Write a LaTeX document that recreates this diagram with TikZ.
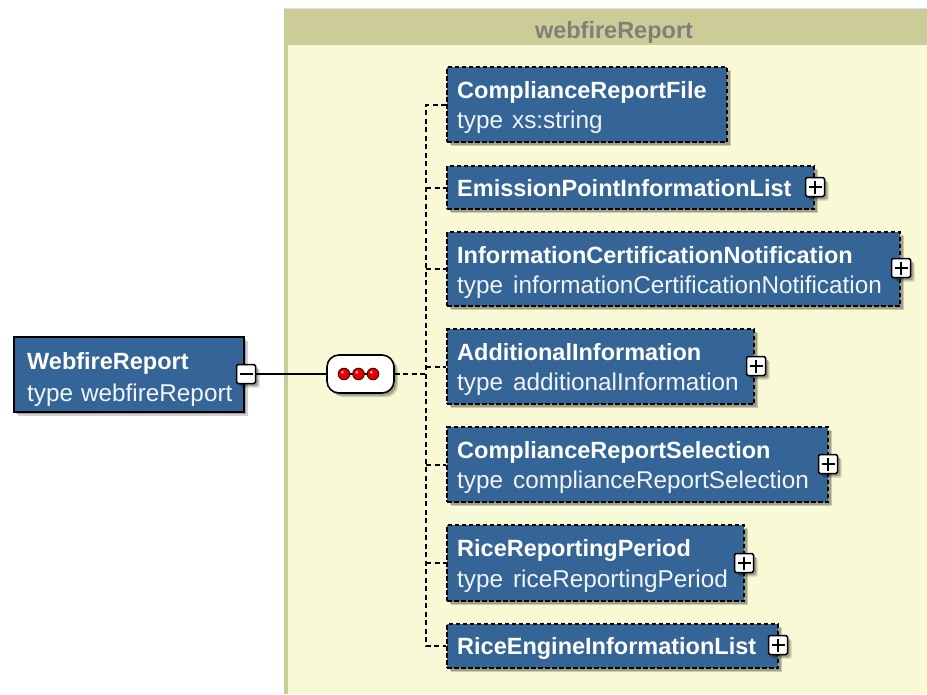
\documentclass[tikz,border=0pt]{standalone}
\usepackage{fontspec}
\setmainfont{Liberation Sans}
\usetikzlibrary{shadows}
\definecolor{boxblue}{RGB}{52,101,150}
\definecolor{panelbody}{RGB}{250,249,214}
\definecolor{panelhead}{RGB}{204,204,153}
\definecolor{hdrtext}{RGB}{128,128,120}
\definecolor{dotred}{RGB}{230,0,0}
\tikzset{
  shad/.style={drop shadow={shadow xshift=4pt,shadow yshift=-4pt,fill=black,opacity=.18},
               drop shadow={shadow xshift=2.5pt,shadow yshift=-2.5pt,fill=black,opacity=.22}},
  elbox/.style={shad,draw=black,line width=2pt,dash pattern=on 4.5pt off 2.5pt,fill=boxblue,
                inner sep=0pt,anchor=north west},
  rootbox/.style={shad,draw=black,line width=1.8pt,fill=boxblue,inner sep=0pt,anchor=north west},
  ttl/.style={anchor=base west,inner sep=0pt,text=white,font=\fontsize{23.5}{23.5}\selectfont\bfseries},
  typ/.style={anchor=base west,inner sep=0pt,text=white!93!boxblue,font=\fontsize{24.3}{24.3}\selectfont},
  pmbox/.style={shad,draw=black,line width=1.5pt,fill=white,minimum size=19pt,inner sep=0pt,rounded corners=1.5pt},
  plus/.style={pmbox,path picture={
     \draw[line width=1.8pt] ([xshift=3pt]path picture bounding box.west) -- ([xshift=-3pt]path picture bounding box.east);
     \draw[line width=1.8pt] ([yshift=3pt]path picture bounding box.south) -- ([yshift=-3pt]path picture bounding box.north);}},
  minus/.style={pmbox,path picture={
     \draw[line width=1.8pt] ([xshift=3pt]path picture bounding box.west) -- ([xshift=-3pt]path picture bounding box.east);}},
  conn/.style={line width=2pt,dash pattern=on 5pt off 3.5pt},
  solidconn/.style={line width=1.6pt},
  seqbox/.style={shad,draw=black,line width=1.6pt,fill=white,rounded corners=12pt,inner sep=0pt,
                 minimum width=67pt,minimum height=38pt},
  hdr/.style={anchor=base,inner sep=0pt,text=hdrtext,font=\fontsize{23.5}{23.5}\selectfont\bfseries}
}
\begin{document}
\begin{tikzpicture}[x=1pt,y=1pt]
\useasboundingbox (0,0) rectangle (927,-694);
% panel
\fill[panelbody] (284,-9) rectangle (927,-694);
\fill[panelhead] (284,-9) rectangle (927,-45);
\fill[panelhead] (284,-45) rectangle (288,-694);
\draw[black!12,line width=0.8pt] (284,-8.5) -- (927,-8.5);
\node[hdr] (hdr) at (614,-38) {webfireReport};

% root element
\node[rootbox,minimum width=230pt,minimum height=75pt] (root) at (13,-336) {};
\node[ttl] (roott) at (27,-369) {WebfireReport};
\node[typ] (rooty) at (27,-401) {type\hspace{8pt}webfireReport};
\node[minus] (rootm) at (246,-374) {};

% sequence compositor
\node[seqbox] (seq) at (360.5,-374) {};
\draw[line width=1.3pt] (344,-374) -- (373,-374);
\foreach \xx in {344,358.5,373} {
  \fill[dotred,draw=black!75!red,line width=0.9pt] (\xx,-374) circle (5.8pt);
  \fill[white,opacity=.7] (\xx-1.6,-372.2) circle (1.5pt);
}
\draw[solidconn] (rootm.east) -- (seq.west);

% children
\node[elbox,minimum width=280pt,minimum height=75pt] (crf) at (446,-66) {};
\node[ttl] (crft) at (457,-98) {ComplianceReportFile};
\node[typ] (crfy) at (457,-128) {type\hspace{9pt}xs:string};

\node[elbox,minimum width=367pt,minimum height=43pt] (epil) at (446,-165) {};
\node[ttl] (epilt) at (457,-196) {EmissionPointInformationList};
\node[plus] (epilp) at (815,-187) {};

\node[elbox,minimum width=453pt,minimum height=74pt] (icn) at (446,-231) {};
\node[ttl] (icnt) at (457,-263) {InformationCertificationNotification};
\node[typ] (icny) at (457,-293) {type\hspace{10pt}informationCertificationNotification};
\node[plus] (icnp) at (901,-268) {};

\node[elbox,minimum width=307pt,minimum height=75pt] (ai) at (446,-328) {};
\node[ttl] (ait) at (457,-360) {AdditionalInformation};
\node[typ] (aiy) at (457,-390) {type\hspace{10pt}additionalInformation};
\node[plus] (aip) at (756,-366) {};

\node[elbox,minimum width=381pt,minimum height=75pt] (crs) at (446,-426) {};
\node[ttl] (crst) at (457,-458) {ComplianceReportSelection};
\node[typ] (crsy) at (457,-488) {type\hspace{10pt}complianceReportSelection};
\node[plus] (crsp) at (828,-464) {};

\node[elbox,minimum width=297pt,minimum height=76pt] (rrp) at (446,-524) {};
\node[ttl] (rrpt) at (457,-556) {RiceReportingPeriod};
\node[typ] (rrpy) at (457,-587) {type\hspace{10pt}riceReportingPeriod};
\node[plus] (rrpp) at (744,-563) {};

\node[elbox,minimum width=331pt,minimum height=44pt] (reil) at (446,-623) {};
\node[ttl] (reilt) at (457,-654) {RiceEngineInformationList};
\node[plus] (reilp) at (778,-645) {};

% connectors
\coordinate (bus) at (426,0);
\draw[conn] (seq.east) -- (seq.east -| bus);
\draw[conn] (crf.west) -| (reil.west -| bus) -- (reil.west);
\foreach \n in {epil,icn,ai,crs,rrp} {
  \draw[conn] (\n.west -| bus) -- (\n.west);
}
\end{tikzpicture}
\end{document}
